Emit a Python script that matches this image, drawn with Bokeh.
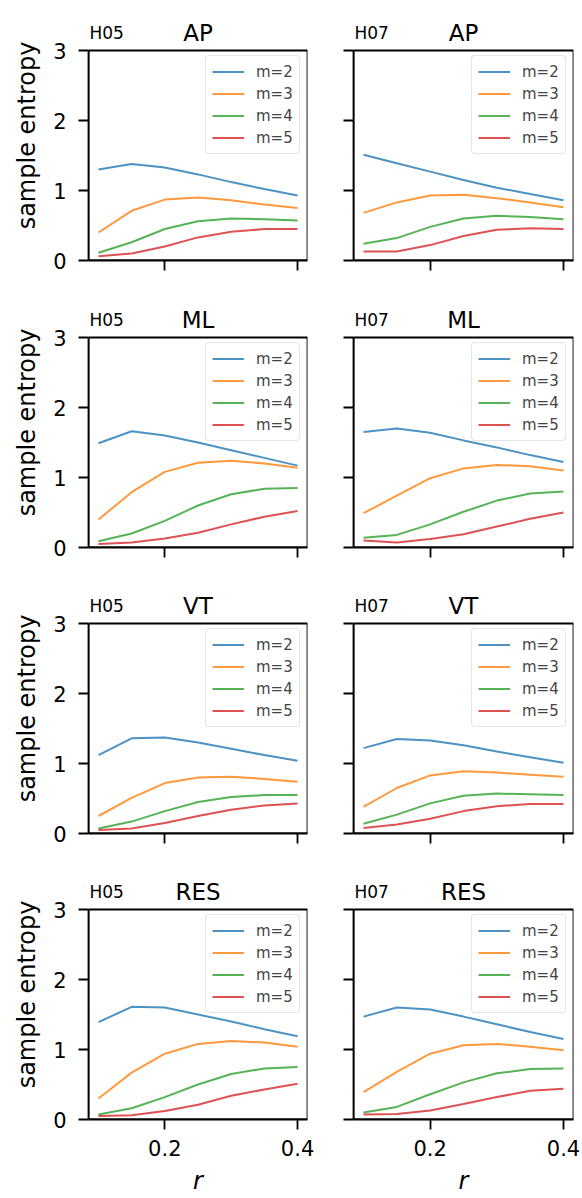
from bokeh.plotting import figure
from bokeh.layouts import gridplot
from bokeh.models import Legend, LegendItem, Label, FixedTicker, Range1d, BoxAnnotation
from bokeh.embed import file_html
from bokeh.resources import INLINE

# ---------------- data ----------------
r_values = [0.10, 0.15, 0.20, 0.25, 0.30, 0.35, 0.40]
m_labels = ["m=2", "m=3", "m=4", "m=5"]
subjects = ["H05", "H07"]
signals = ["AP", "ML", "VT", "RES"]
x_ticks = [0.2, 0.4]
y_ticks = [0, 1, 2, 3]

# each panel: series for m=2, m=3, m=4, m=5
h05_ap = [[1.30, 1.38, 1.33, 1.23, 1.12, 1.02, 0.93],
          [0.40, 0.71, 0.87, 0.90, 0.86, 0.80, 0.75],
          [0.11, 0.26, 0.45, 0.56, 0.60, 0.59, 0.57],
          [0.06, 0.10, 0.20, 0.33, 0.41, 0.45, 0.45]]
h07_ap = [[1.51, 1.39, 1.27, 1.15, 1.04, 0.95, 0.86],
          [0.68, 0.83, 0.93, 0.94, 0.89, 0.83, 0.76],
          [0.24, 0.32, 0.48, 0.60, 0.64, 0.62, 0.59],
          [0.13, 0.13, 0.22, 0.35, 0.44, 0.46, 0.45]]
h05_ml = [[1.49, 1.66, 1.60, 1.50, 1.39, 1.28, 1.17],
          [0.40, 0.79, 1.08, 1.21, 1.24, 1.20, 1.14],
          [0.09, 0.20, 0.38, 0.60, 0.76, 0.84, 0.85],
          [0.05, 0.07, 0.13, 0.21, 0.33, 0.44, 0.52]]
h07_ml = [[1.65, 1.70, 1.64, 1.53, 1.43, 1.32, 1.22],
          [0.49, 0.74, 0.99, 1.13, 1.18, 1.16, 1.10],
          [0.14, 0.18, 0.33, 0.51, 0.67, 0.77, 0.80],
          [0.10, 0.07, 0.12, 0.19, 0.30, 0.41, 0.50]]
h05_vt = [[1.12, 1.36, 1.37, 1.30, 1.21, 1.12, 1.04],
          [0.25, 0.51, 0.72, 0.80, 0.81, 0.78, 0.74],
          [0.07, 0.17, 0.32, 0.45, 0.52, 0.55, 0.55],
          [0.05, 0.07, 0.15, 0.25, 0.34, 0.40, 0.43]]
h07_vt = [[1.22, 1.35, 1.33, 1.26, 1.17, 1.09, 1.01],
          [0.38, 0.65, 0.83, 0.89, 0.87, 0.84, 0.81],
          [0.14, 0.27, 0.43, 0.54, 0.57, 0.56, 0.55],
          [0.08, 0.13, 0.21, 0.32, 0.39, 0.42, 0.42]]
h05_res = [[1.39, 1.61, 1.60, 1.50, 1.40, 1.29, 1.19],
           [0.30, 0.67, 0.94, 1.08, 1.12, 1.10, 1.04],
           [0.07, 0.16, 0.32, 0.50, 0.65, 0.73, 0.75],
           [0.05, 0.06, 0.12, 0.21, 0.34, 0.43, 0.51]]
h07_res = [[1.47, 1.60, 1.57, 1.47, 1.36, 1.25, 1.15],
           [0.39, 0.68, 0.94, 1.06, 1.08, 1.04, 0.99],
           [0.10, 0.18, 0.36, 0.53, 0.66, 0.72, 0.73],
           [0.07, 0.08, 0.13, 0.22, 0.32, 0.41, 0.44]]

panels = [[h05_ap, h07_ap], [h05_ml, h07_ml], [h05_vt, h07_vt], [h05_res, h07_res]]

# ---------------- style ----------------
colors = ["#1f77b4", "#ff7f0e", "#2ca02c", "#d62728"]
FONT = "DejaVu Sans"
BOX_H = 210          # pixel height of the axes box
EXTRA = 40           # frame space above the box, used for the titles
Y_MAX = 3.0
Y_TOP = Y_MAX * (BOX_H + EXTRA) / BOX_H
top_b = [10, 10, 10, 9]
bot_b = [27, 26, 27, 79]


def make(row, col):
    data = panels[row][col]
    left = col == 0
    last = row == 3
    fw = 219 if left else 220
    xr = Range1d(0.085, 0.415)
    p = figure(frame_width=fw, frame_height=BOX_H + EXTRA,
               x_range=xr, y_range=Range1d(0, Y_TOP),
               output_backend="svg", toolbar_location=None,
               min_border_left=88 if left else 36,
               min_border_right=10 if left else 9,
               min_border_top=top_b[row], min_border_bottom=bot_b[row])
    p.xgrid.visible = False
    p.ygrid.visible = False
    p.outline_line_color = None
    p.background_fill_color = "white"
    p.border_fill_color = "white"

    for ax in (p.xaxis[0], p.yaxis[0]):
        ax.axis_line_width = 1.8
        ax.axis_line_color = "black"
        ax.major_tick_line_width = 1.8
        ax.major_tick_line_color = "black"
        ax.major_tick_out = 10
        ax.major_tick_in = 0
        ax.minor_tick_out = 0
        ax.minor_tick_in = 0
        ax.major_label_text_font = FONT
        ax.major_label_text_color = "black"
        ax.axis_label_text_font = FONT
        ax.axis_label_text_color = "black"

    xa = p.xaxis[0]
    xa.ticker = FixedTicker(ticks=x_ticks)
    if last:
        xa.major_label_text_font_size = "21px"
        xa.major_label_standoff = 10
        xa.axis_label = "r"
        xa.axis_label_text_font_style = "italic"
        xa.axis_label_text_font_size = "24px"
        xa.axis_label_standoff = 8
    else:
        xa.major_label_overrides = {t: "" for t in x_ticks}
        xa.major_label_text_font_size = "6px"
        xa.major_label_standoff = 0

    ya = p.yaxis[0]
    ya.ticker = FixedTicker(ticks=y_ticks)
    ya.bounds = (0, Y_MAX)
    if left:
        ya.major_label_text_font_size = "21px"
        ya.major_label_standoff = 12
        ya.axis_label = "sample entropy"
        ya.axis_label_text_font_style = "normal"
        ya.axis_label_text_font_size = "24px"
        ya.axis_label_standoff = 9
    else:
        ya.major_label_overrides = {t: "" for t in y_ticks}
        ya.major_label_text_font_size = "6px"
        ya.major_label_standoff = 0

    # axes box (spines)
    p.add_layout(BoxAnnotation(left=xr.start, right=xr.end, bottom=0, top=Y_MAX,
                               fill_alpha=0, fill_color=None,
                               line_color="black", line_width=1.8, line_alpha=1.0))

    items = []
    for i, series in enumerate(data):
        rr = p.line(r_values, series, line_color=colors[i], line_alpha=0.8, line_width=2)
        items.append(LegendItem(label=m_labels[i], renderers=[rr]))
    leg = Legend(items=items, location=(fw - 102, 106),
                 label_text_font=FONT, label_text_font_size="15px",
                 glyph_width=32, glyph_height=19, label_height=19,
                 spacing=3, padding=6, margin=0, label_standoff=12,
                 border_line_color="#cccccc", border_line_width=1.5,
                 background_fill_alpha=0.8)
    try:
        leg.border_radius = 4
    except Exception:
        pass
    p.add_layout(leg)

    ty = Y_MAX + 17.5 * Y_MAX / BOX_H
    p.add_layout(Label(x=xr.start, y=ty, x_offset=1, text=subjects[col],
                       text_font=FONT, text_font_size="17px",
                       text_baseline="alphabetic", text_align="left",
                       text_color="black"))
    p.add_layout(Label(x=(xr.start + xr.end) / 2, y=ty, text=signals[row],
                       text_font=FONT, text_font_size="23px",
                       text_baseline="alphabetic", text_align="center",
                       text_color="black"))
    return p


grid = gridplot([[make(r, c) for c in range(2)] for r in range(4)],
                toolbar_location=None)

open("out.html", "w").write(file_html(grid, INLINE))
